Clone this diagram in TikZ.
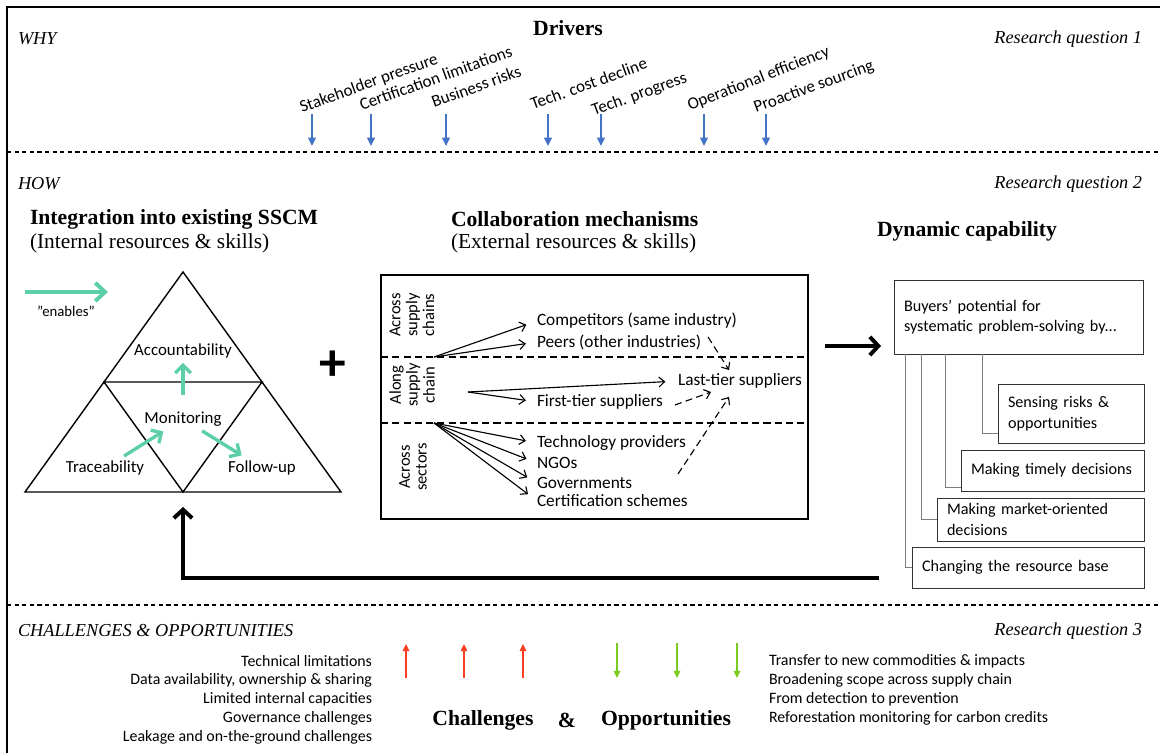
\documentclass[tikz,border=0pt]{standalone}
\usepackage{fontspec}
\setmainfont{Carlito}
\newfontfamily\seriffont{Liberation Serif}
\usetikzlibrary{arrows.meta,calc}

\definecolor{driverblue}{RGB}{68,114,196}
\definecolor{enablegreen}{RGB}{92,207,170}
\definecolor{challred}{RGB}{250,62,32}
\definecolor{oppgreen}{RGB}{122,204,32}
\definecolor{treegray}{RGB}{125,125,125}

\newcommand{\fsz}[2]{\fontsize{#1}{#2}\selectfont}

\begin{document}
\begin{tikzpicture}[x=0.025cm,y=-0.025cm,
  every node/.style={inner sep=0pt, outer sep=0pt},
  section/.style={font=\seriffont\itshape\fsz{13}{16}},
  heading/.style={font=\seriffont\bfseries\fsz{15.4}{18}},
  subheading/.style={font=\seriffont\fsz{15.2}{18}},
  driver/.style={font=\fsz{12.1}{15}, rotate=20, anchor=base west},
  driverarrow/.style={draw=driverblue, line width=1.4pt, -{Triangle[length=6pt,width=5.5pt]}},
  divider/.style={line width=0.8pt, dash pattern=on 3pt off 2.4pt},
  enables/.style={draw=enablegreen, line width=2.8pt, -{Straight Barb[length=7pt,width=13pt]}},
  enablessmall/.style={draw=enablegreen, line width=2.4pt, -{Straight Barb[length=5.5pt,width=11pt]}},
  tritext/.style={font=\fsz{12}{14}},
  ctext/.style={font=\fsz{12.3}{15}, anchor=west},
  rottext/.style={font=\fsz{11.8}{12}, rotate=90, align=center},
  carrow/.style={line width=0.8pt, -{Straight Barb[length=4pt,width=7pt]}},
  cdash/.style={line width=0.8pt, dash pattern=on 5pt off 3pt, -{Straight Barb[length=4pt,width=7pt]}},
  sepdash/.style={line width=0.8pt, dash pattern=on 5pt off 3pt},
  bigarrow/.style={line width=2.8pt, -{Straight Barb[length=6pt,width=13pt]}},
  capbox/.style={draw=black!80, line width=0.7pt, anchor=north west, inner xsep=0.25cm,
    align=left, font=\fsz{11.5}{14.5}},
  treeline/.style={draw=treegray, line width=0.7pt},
  listtext/.style={font=\fsz{11.3}{13.5}},
  challarrow/.style={draw=challred, line width=1.3pt, -{Triangle[length=5pt,width=4.5pt]}},
  opparrow/.style={draw=oppgreen, line width=1.3pt, -{Triangle[length=5pt,width=4.5pt]}}
]
\useasboundingbox (0,0) rectangle (1160,753);

% outer frame (open at right and bottom) and section dividers
\draw[line width=1.3pt] (7,753) -- (7,7) -- (1160,7);
\draw[divider] (7,152) -- (1160,152);
\draw[divider] (7,605) -- (1160,605);

% ---------- WHY ----------
\node[section, anchor=west] (why) at (18,39) {WHY};
\node[heading] (drivers) at (568,28) {Drivers};
\node[section, anchor=east] (rq1) at (1142,39) {Research question 1};

\node[driver] (d1) at (302,113) {Stakeholder pressure};
\node[driver] (d2) at (362,111) {Certification limitations};
\node[driver] (d3) at (434,108) {Business risks};
\node[driver] (d4) at (533,110) {Tech. cost decline};
\node[driver] (d5) at (594,116) {Tech. progress};
\node[driver, rotate=1.5] (d6) at (690,111) {Operational efficiency};
\node[driver] (d7) at (756,113) {Proactive sourcing};

\foreach \x [count=\i] in {312,371,446,548,601,704,766} {
  \coordinate (dtop\i) at (\x,114);
  \coordinate (dtip\i) at (\x,146);
  \draw[driverarrow] (dtop\i) -- (dtip\i);
}

% ---------- HOW ----------
\node[section, anchor=west] (how) at (18,184) {HOW};
\node[section, anchor=east] (rq2) at (1142,184) {Research question 2};

\node[heading, anchor=west] (integ) at (30,219) {Integration into existing SSCM};
\node[subheading, anchor=west] (internal) at (30,243) {(Internal resources \& skills)};
\node[heading, anchor=west] (collabhead) at (451,219) {Collaboration mechanisms};
\node[subheading, anchor=west] (external) at (451,243) {(External resources \& skills)};
\node[heading, anchor=west] (dyncap) at (877,231) {Dynamic capability};

% legend arrow
\coordinate (en0) at (25,292);
\coordinate (en1) at (108,292);
\draw[enables] (en0) -- (en1);
\node[font=\fsz{10.5}{12}] (enlabel) at (66,311) {”enables”};

% triangle of capabilities
\coordinate (tA) at (183,272);
\coordinate (tL) at (25,492);
\coordinate (tR) at (341,492);
\coordinate (tML) at (104,382);
\coordinate (tMR) at (262,382);
\coordinate (tMB) at (183,492);
\draw[line width=1pt] (tA) -- (tR) -- (tL) -- cycle;
\draw[line width=1pt] (tML) -- (tMR) -- (tMB) -- cycle;

\node[tritext] (acc) at (183,351) {Accountability};
\node[tritext] (mon) at (183,419) {Monitoring};
\node[tritext] (trace) at (105,468) {Traceability};
\node[tritext] (follow) at (262,468) {Follow-up};

\draw[enablessmall, shorten <=17pt, shorten >=8.5pt] (mon.center) -- (acc.center);
\draw[enablessmall, shorten <=16pt, shorten >=16.5pt] (trace.center) -- (mon.center);
\draw[enablessmall, shorten <=16pt, shorten >=17pt] (mon.center) -- (follow.center);

\node[font=\bfseries\fsz{38}{38}] (plus) at (333,366) {+};

% collaboration mechanisms
\node[draw, line width=1pt, minimum width=10.675cm, minimum height=6.1cm, anchor=north west] (collab) at (381,275) {};
\draw[sepdash] (collab.west |- 0,357) -- (collab.east |- 0,357);
\draw[sepdash] (collab.west |- 0,423) -- (collab.east |- 0,423);

\node[rottext] (rowA) at (412,315) {Across\\supply\\chains};
\node[rottext] (rowB) at (412,385) {Along\\supply\\chain};
\node[rottext] (rowC) at (413,467) {Across\\sectors};

\node[ctext] (comp) at (537,321) {Competitors (same industry)};
\node[ctext] (peers) at (537,342) {Peers (other industries)};
\node[ctext] (last) at (678,381) {Last-tier suppliers};
\node[ctext] (first) at (537,402) {First-tier suppliers};
\node[ctext] (techp) at (537,443) {Technology providers};
\node[ctext] (ngo) at (537,463) {NGOs};
\node[ctext] (gov) at (537,483) {Governments};
\node[ctext] (certs) at (537,501) {Certification schemes};

\coordinate (hubA) at (434,357);
\coordinate (hubB) at (468,392);
\coordinate (hubC) at (434,423);
\draw[carrow, shorten >=8pt] (hubA) -- (comp.west);
\draw[carrow, shorten >=8pt] (hubA) -- (peers.west);
\draw[carrow, shorten >=9pt] (hubB) -- (last.west);
\draw[carrow, shorten >=8pt] (hubB) -- (first.west);
\draw[carrow, shorten >=8pt] (hubC) -- (techp.west);
\draw[carrow, shorten >=8pt] (hubC) -- (ngo.west);
\draw[carrow, shorten >=8pt] (hubC) -- (gov.west);
\draw[carrow, shorten >=8pt] (hubC) -- (certs.west);

\coordinate (dpa) at (708,337);
\coordinate (dpb) at (729,370);
\coordinate (dfa) at (675,405);
\coordinate (dfb) at (711,392);
\coordinate (dca) at (678,474);
\coordinate (dcb) at (729,397);
\draw[cdash] (dpa) -- (dpb);
\draw[cdash] (dfa) -- (dfb);
\draw[cdash] (dca) -- (dcb);

% dynamic capability
\node[capbox, minimum width=6.225cm, minimum height=1.85cm, text width=5.725cm] (buyers) at (894,280)
  {Buyers’ potential for\\systematic problem-solving by...};
\node[capbox, minimum width=3.65cm, minimum height=1.475cm, text width=3.15cm] (sensing) at (998,384)
  {Sensing risks \&\\opportunities};
\node[capbox, minimum width=4.575cm, minimum height=1.025cm, text width=4.075cm] (timely) at (961,450)
  {\mbox{Making timely decisions}};
\node[capbox, minimum width=5.175cm, minimum height=1.075cm, text width=4.675cm] (market) at (937,498)
  {Making market-oriented\\decisions};
\node[capbox, minimum width=5.8cm, minimum height=1.025cm, text width=5.3cm] (changing) at (912,547)
  {Changing the resource base};

\draw[treeline] ($(buyers.south west)+(88,0)$) |- ($(sensing.south west)+(0,-10)$);
\draw[treeline] ($(buyers.south west)+(51,0)$) |- ($(timely.south west)+(0,-4)$);
\draw[treeline] ($(buyers.south west)+(27,0)$) |- (market.west);
\draw[treeline] ($(buyers.south west)+(11,0)$) |- (changing.west);

% main flow arrows
\coordinate (toDynA) at (825,346);
\coordinate (toDynB) at (881,346);
\draw[bigarrow] (toDynA) -- (toDynB);
\coordinate (fbStart) at (879,578);
\coordinate (fbTip) at (183,507);
\draw[bigarrow] (fbStart) -| (fbTip);

% ---------- CHALLENGES & OPPORTUNITIES ----------
\node[section, anchor=west] (chop) at (18,631) {CHALLENGES \& OPPORTUNITIES};
\node[section, anchor=east] (rq3) at (1142,631) {Research question 3};

\node[listtext, anchor=east] (ch1) at (372,661) {Technical limitations};
\node[listtext, anchor=east] (ch2) at (372,680) {Data availability, ownership \& sharing};
\node[listtext, anchor=east] (ch3) at (372,699) {Limited internal capacities};
\node[listtext, anchor=east] (ch4) at (372,718) {Governance challenges};
\node[listtext, anchor=east] (ch5) at (372,737) {Leakage and on-the-ground challenges};

\node[listtext, anchor=west] (op1) at (769,661) {Transfer to new commodities \& impacts};
\node[listtext, anchor=west] (op2) at (769,680) {Broadening scope across supply chain};
\node[listtext, anchor=west] (op3) at (769,699) {From detection to prevention};
\node[listtext, anchor=west] (op4) at (769,718) {Reforestation monitoring for carbon credits};

\foreach \x [count=\i] in {406,464,523} {
  \coordinate (cbase\i) at (\x,678);
  \coordinate (ctip\i) at (\x,644);
  \draw[challarrow] (cbase\i) -- (ctip\i);
}
\foreach \x [count=\i] in {617,677,737} {
  \coordinate (obase\i) at (\x,643);
  \coordinate (otip\i) at (\x,678);
  \draw[opparrow] (obase\i) -- (otip\i);
}

\node[heading] (challenges) at (483,720) {Challenges};
\node[heading] (amp) at (567,720) {\&};
\node[heading] (opps) at (666,720) {Opportunities};

\end{tikzpicture}
\end{document}
